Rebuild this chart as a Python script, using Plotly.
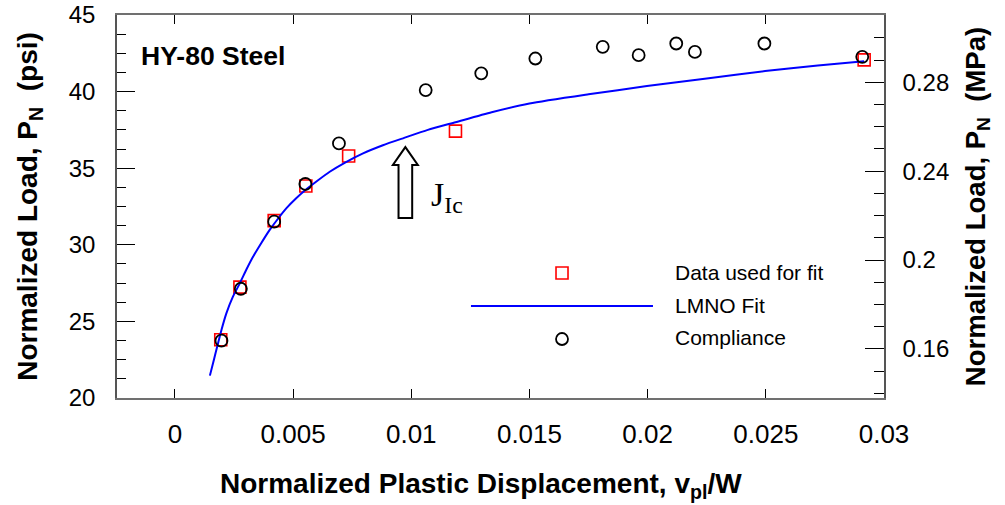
import plotly.graph_objects as go

PSI_TO_MPA = 0.0068947573

# Data used for fit (red squares)
fit_data_x = [0.00194, 0.00275, 0.00420, 0.00554, 0.00735, 0.01187, 0.02916]
fit_data_y = [23.80, 27.24, 31.58, 33.84, 35.80, 37.42, 42.07]

# Compliance (black circles)
comp_x = [0.00197, 0.00279, 0.00420, 0.00552, 0.00694, 0.01061, 0.01296,
          0.01525, 0.01810, 0.01962, 0.02121, 0.02200, 0.02494, 0.02908]
comp_y = [23.74, 27.13, 31.51, 33.97, 36.62, 40.10, 41.19,
          42.16, 42.92, 42.38, 43.14, 42.59, 43.14, 42.27]

# LMNO fit curve
lmno_x = [0.00148, 0.00165, 0.00179, 0.00198, 0.00218, 0.00245, 0.00275,
          0.00303, 0.00331, 0.00365, 0.00401, 0.00436, 0.00472, 0.00512,
          0.00556, 0.00600, 0.00655, 0.00720, 0.00796, 0.00880, 0.00970,
          0.01070, 0.01187, 0.01340, 0.01500, 0.01750, 0.01997, 0.02250,
          0.02497, 0.02720, 0.02916]
lmno_y = [21.46, 22.50, 23.36, 24.50, 25.54, 26.60, 27.50,
          28.40, 29.23, 30.10, 30.97, 31.70, 32.39, 33.02,
          33.62, 34.15, 34.77, 35.37, 35.97, 36.50, 36.98,
          37.50, 38.00, 38.65, 39.22, 39.82, 40.36, 40.86,
          41.34, 41.70, 41.98]

# J_Ic arrow
jic_x = 0.00975
jic_tip_y = 36.38
jic_head_base_y = 35.21
jic_bottom_y = 31.75
head_half_w = 0.000528
shaft_half_w = 0.000289

x_range = [-0.00245, 0.03]
y_range = [20, 45]
y2_range = [y_range[0] * PSI_TO_MPA, y_range[1] * PSI_TO_MPA]

FONT = "Liberation Sans, Arial, sans-serif"

fig = go.Figure()
fig.add_trace(go.Scatter(
    x=fit_data_x, y=fit_data_y, mode="markers", name="Data used for fit",
    marker=dict(symbol="square-open", size=12, color="#ff0000",
                line=dict(width=1.6, color="#ff0000")),
    showlegend=False))
fig.add_trace(go.Scatter(
    x=lmno_x, y=lmno_y, mode="lines", name="LMNO Fit",
    line=dict(color="#0000ff", width=2, shape="spline", smoothing=0.6),
    showlegend=False))
fig.add_trace(go.Scatter(
    x=comp_x, y=comp_y, mode="markers", name="Compliance",
    marker=dict(symbol="circle-open", size=12, color="#000000",
                line=dict(width=1.8, color="#000000")),
    showlegend=False))
# same compliance data in MPa on the secondary axis (invisible, keeps right axis active)
fig.add_trace(go.Scatter(
    x=comp_x, y=[v * PSI_TO_MPA for v in comp_y], yaxis="y2", mode="markers",
    marker=dict(size=1, color="rgba(0,0,0,0)"), hoverinfo="skip",
    name="Compliance (MPa)", showlegend=False))

# hollow arrow
path = (f"M {jic_x - shaft_half_w},{jic_bottom_y} "
        f"L {jic_x - shaft_half_w},{jic_head_base_y} "
        f"L {jic_x - head_half_w},{jic_head_base_y} "
        f"L {jic_x},{jic_tip_y} "
        f"L {jic_x + head_half_w},{jic_head_base_y} "
        f"L {jic_x + shaft_half_w},{jic_head_base_y} "
        f"L {jic_x + shaft_half_w},{jic_bottom_y} Z")
fig.add_shape(type="path", path=path, xref="x", yref="y",
              line=dict(color="black", width=2), fillcolor="white", layer="above")

fig.add_annotation(x=0.01075, y=33.1, xref="x", yref="y", text="J<sub>Ic</sub>",
                   showarrow=False, xanchor="left", yanchor="middle",
                   font=dict(family="Liberation Serif, Times New Roman, serif",
                             size=34, color="black"))

fig.add_annotation(x=0.029, y=0.892, xref="paper", yref="paper", text="HY-80 Steel",
                   showarrow=False, xanchor="left", yanchor="middle",
                   font=dict(family=FONT, size=26.5, color="black", weight="bold"))

# x-axis title (placed as in the reference, slightly left of centre)
fig.add_annotation(x=0.4746, y=-0.178, xref="paper", yref="paper",
                   text="Normalized Plastic Displacement, v<sub>pl</sub>/W",
                   showarrow=False, xanchor="center", yanchor="top",
                   font=dict(family=FONT, size=28, color="black", weight="bold"))

# custom legend
leg_text_x = 0.7249
leg_items = [("Data used for fit", 0.3264), ("LMNO Fit", 0.2428), ("Compliance", 0.1567)]
for txt, yy in leg_items:
    fig.add_annotation(x=leg_text_x, y=yy, xref="paper", yref="paper", text=txt,
                       showarrow=False, xanchor="left", yanchor="middle",
                       font=dict(family=FONT, size=21, color="black"))
leg_sym_x = 0.5802
fig.add_shape(type="rect", xref="paper", yref="paper", xsizemode="pixel", ysizemode="pixel",
              xanchor=leg_sym_x, yanchor=0.3264, x0=-6, x1=6, y0=-6, y1=6,
              line=dict(color="#ff0000", width=1.6))
fig.add_shape(type="line", xref="paper", yref="paper", x0=0.4615, x1=0.6988,
              y0=0.2402, y1=0.2402, line=dict(color="#0000ff", width=2))
fig.add_shape(type="circle", xref="paper", yref="paper", xsizemode="pixel", ysizemode="pixel",
              xanchor=leg_sym_x, yanchor=0.1540, x0=-6, x1=6, y0=-6, y1=6,
              line=dict(color="#000000", width=1.8))

fig.update_layout(
    width=1005, height=505,
    margin=dict(l=117, r=121, t=15, b=107, autoexpand=False),
    paper_bgcolor="white", plot_bgcolor="white",
    font=dict(family=FONT, color="black"),
    xaxis=dict(
        range=x_range, dtick=0.005, tick0=0, automargin=False,
        showgrid=False, zeroline=False,
        showline=True, linecolor="#707070", linewidth=2, mirror="ticks",
        ticks="inside", ticklen=9, tickcolor="black", tickwidth=1,
        tickfont=dict(size=26, family=FONT), ticklabelstandoff=12,
        ticklabeloverflow="allow",
    ),
    yaxis=dict(
        range=y_range, dtick=5, tick0=0, automargin=False,
        showgrid=False, zeroline=False,
        showline=True, linecolor="#555555", linewidth=1.5,
        ticks="inside", ticklen=18, tickcolor="black", tickwidth=1,
        minor=dict(dtick=1.25, ticks="inside", ticklen=9, tickcolor="black"),
        tickfont=dict(size=24, family=FONT), ticklabelstandoff=15,
        ticklabeloverflow="allow",
        title=dict(text="Normalized Load, P<sub>N</sub>  (psi)",
                   font=dict(size=28, family=FONT, weight="bold"), standoff=23),
    ),
    yaxis2=dict(
        range=y2_range, overlaying="y", side="right", anchor="x", automargin=False,
        dtick=0.04, tick0=0,
        showgrid=False, zeroline=False,
        showline=True, linecolor="#555555", linewidth=1.5,
        ticks="inside", ticklen=19, tickcolor="black", tickwidth=1,
        minor=dict(dtick=0.01, ticks="inside", ticklen=10, tickcolor="black"),
        tickfont=dict(size=24, family=FONT), ticklabelstandoff=12,
        ticklabeloverflow="allow",
        title=dict(text="Normalized Load, P<sub>N</sub>  (MPa)",
                   font=dict(size=27.5, family=FONT, weight="bold"), standoff=17),
    ),
)

# remove the browser's default 8px body margin so the figure fills the window
fig.write_html("out.html",
               config={"displayModeBar": False},
               post_script="document.body.style.margin='0';document.body.style.padding='0';")
